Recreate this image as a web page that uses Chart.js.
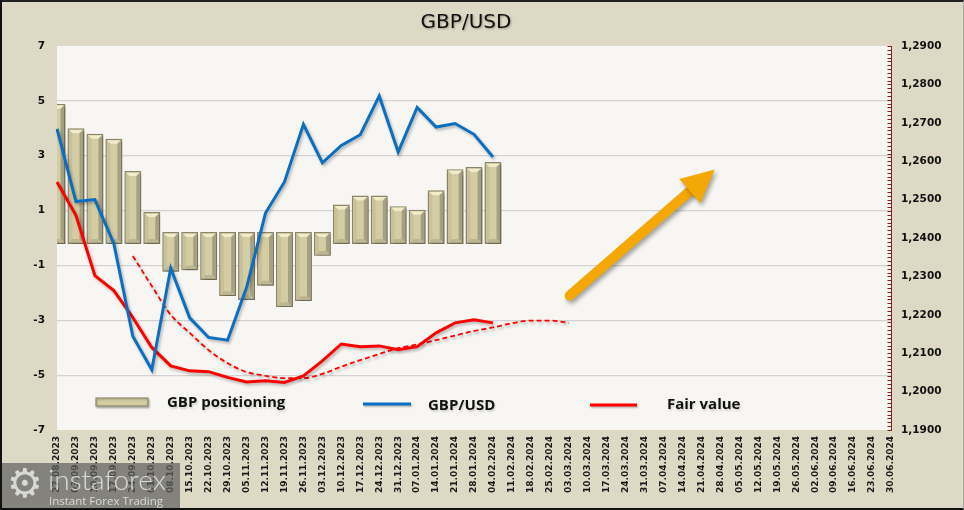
<!DOCTYPE html>
<html>
<head>
<meta charset="utf-8">
<script src="https://cdn.jsdelivr.net/npm/chart.js@4.4.1/dist/chart.umd.min.js"></script>
<style>
  html, body { margin: 0; padding: 0; background: #ddd9c4; }
  #wrap { position: relative; width: 964px; height: 510px; overflow: hidden; }
  #c { position: absolute; left: 0; top: 0; }
  #frame { position: absolute; left: 0; top: 0; width: 964px; height: 510px; box-sizing: border-box;
           border-left: 2px solid #111; border-top: 2px solid #222; border-bottom: 2px solid #111;
           border-right: 1px solid #a8a8a8; pointer-events: none; }
  #wm { position: absolute; left: 2px; top: 463px; width: 178px; height: 47px;
        background: rgba(96, 96, 96, 0.72); color: rgba(232, 232, 232, 0.85); }
  #wm .gear { position: absolute; left: 5px; top: -3px; font: 40px "DejaVu Sans"; }
  #wm .big { position: absolute; left: 46px; top: -1px; font: 300 28px "Lato"; }
  #wm .small { position: absolute; left: 47px; top: 30px; font: 11.5px "Open Sans"; }
</style>
</head>
<body>
<div id="wrap">
  <canvas id="c" width="964" height="510"></canvas>
  <div id="wm"><span class="gear">⚙</span><span class="big">instaforex</span><span class="small">Instant Forex Trading</span></div>
  <div id="frame"></div>
</div>
<script>
// weekly dates on the x axis
const weeks = [
  "27.08.2023","03.09.2023","10.09.2023","17.09.2023","24.09.2023","01.10.2023","08.10.2023",
  "15.10.2023","22.10.2023","29.10.2023","05.11.2023","12.11.2023","19.11.2023","26.11.2023",
  "03.12.2023","10.12.2023","17.12.2023","24.12.2023","31.12.2023","07.01.2024","14.01.2024",
  "21.01.2024","28.01.2024","04.02.2024","11.02.2024","18.02.2024","25.02.2024","03.03.2024",
  "10.03.2024","17.03.2024","24.03.2024","31.03.2024","07.04.2024","14.04.2024","21.04.2024",
  "28.04.2024","05.05.2024","12.05.2024","19.05.2024","26.05.2024","02.06.2024","09.06.2024",
  "16.06.2024","23.06.2024","30.06.2024"
];

// GBP positioning (left axis)
const positioning = [4.67, 3.78, 3.58, 3.40, 2.22, 0.73, -1.01, -0.96, -1.31, -1.90, -2.04, -1.52,
  -2.30, -2.08, -0.43, 1.00, 1.33, 1.33, 0.94, 0.81, 1.52, 2.29, 2.37, 2.55];

// GBP/USD rate (right axis)
const gbpusd = [1.2684, 1.2495, 1.2500, 1.2385, 1.2144, 1.2057, 1.2321, 1.2192, 1.2141, 1.2134,
  1.2271, 1.2465, 1.2546, 1.2696, 1.2596, 1.2641, 1.2669, 1.2770, 1.2624, 1.2740, 1.2689, 1.2698,
  1.2670, 1.2611];

// fair value (right axis)
const fairValue = [1.2546, 1.2459, 1.2302, 1.2263, 1.2193, 1.2115, 1.2067, 1.2054, 1.2052, 1.2037,
  1.2025, 1.2028, 1.2024, 1.2041, 1.2080, 1.2124, 1.2117, 1.2119, 1.2109, 1.2117, 1.2153, 1.2179,
  1.2187, 1.2179];

// fair value trend (dashed), starts at 24.09.2023
const fairTrend = [null, null, null, null, 1.2353, 1.2275, 1.2200, 1.2153, 1.2108, 1.2074, 1.2051,
  1.2041, 1.2035, 1.2035, 1.2046, 1.2065, 1.2082, 1.2098, 1.2113, 1.2123, 1.2134, 1.2146, 1.2158,
  1.2167, 1.2178, 1.2185, 1.2185, 1.2179];

// arrow annotation: [x index, left axis value]
const arrowFrom = [27.05, -2.1];
const arrowTo = [34.7, 2.5];

const BAR_FILL = "#d4cca3";
const BAR_EDGE = "#8d8769";
const BLUE = "#0b6fc1";
const RED = "#ff0000";
const INFLATE = 6;

const plotBg = {
  id: "plotBg",
  beforeDraw(chart) {
    const { ctx, chartArea: a } = chart;
    ctx.save();
    ctx.fillStyle = "#f7f6f2";
    ctx.fillRect(a.left, a.top, a.right - a.left, a.bottom - a.top);
    ctx.restore();
  }
};

const shadows = {
  id: "shadows",
  beforeDatasetDraw(chart) {
    const ctx = chart.ctx;
    ctx.save();
    ctx.shadowColor = "rgba(0,0,0,0.28)";
    ctx.shadowBlur = 3;
    ctx.shadowOffsetX = 1.5;
    ctx.shadowOffsetY = 2;
  },
  afterDatasetDraw(chart, args) {
    chart.ctx.restore();
    // bevel on the bars
    const meta = args.meta;
    if (meta.type !== "bar") return;
    const ctx = chart.ctx, a = chart.chartArea;
    ctx.save();
    ctx.beginPath();
    ctx.rect(a.left, a.top, a.right - a.left, a.bottom - a.top);
    ctx.clip();
    meta.data.forEach((b) => {
      const l = b.x - b.width / 2 - INFLATE + 1.4, r = b.x + b.width / 2 + INFLATE - 1.4;
      const t = Math.min(b.y, b.base) - INFLATE + 1.4, bt = Math.max(b.y, b.base) + INFLATE - 1.4;
      const d = 3.5;
      ctx.fillStyle = "#f2ecca";
      ctx.beginPath();
      ctx.moveTo(l, t); ctx.lineTo(r, t); ctx.lineTo(r - d, t + d); ctx.lineTo(l + d, t + d);
      ctx.closePath(); ctx.fill();
      ctx.fillStyle = "#a6a083";
      ctx.beginPath();
      ctx.moveTo(r, t); ctx.lineTo(r, bt); ctx.lineTo(r - d, bt - d); ctx.lineTo(r - d, t + d);
      ctx.closePath(); ctx.fill();
      ctx.fillStyle = "#bdb692";
      ctx.beginPath();
      ctx.moveTo(l, bt); ctx.lineTo(r, bt); ctx.lineTo(r - d, bt - d); ctx.lineTo(l + d, bt - d);
      ctx.closePath(); ctx.fill();
      ctx.fillStyle = "#c9c199";
      ctx.beginPath();
      ctx.moveTo(l, t); ctx.lineTo(l + d, t + d); ctx.lineTo(l + d, bt - d); ctx.lineTo(l, bt);
      ctx.closePath(); ctx.fill();
    });
    ctx.restore();
  }
};

// small inward ticks on the right axis
const rightTicks = {
  id: "rightTicks",
  afterDraw(chart) {
    const s = chart.scales.y1, ctx = chart.ctx;
    const x = chart.chartArea.right;
    ctx.save();
    ctx.strokeStyle = "#8b1c1c";
    ctx.lineWidth = 1;
    s.ticks.forEach((t) => {
      const y = Math.round(s.getPixelForValue(t.value)) + 0.5;
      ctx.beginPath();
      ctx.moveTo(x - 3.5, y);
      ctx.lineTo(x, y);
      ctx.stroke();
    });
    ctx.restore();
  }
};

const decorations = {
  id: "decorations",
  afterDraw(chart) {
    const ctx = chart.ctx;
    const sx = chart.scales.x, sy = chart.scales.y;

    // title
    ctx.save();
    ctx.font = '20px "DejaVu Sans"';
    ctx.fillStyle = "#111";
    ctx.textAlign = "center";
    ctx.textBaseline = "middle";
    ctx.shadowColor = "rgba(0,0,0,0.3)";
    ctx.shadowBlur = 2;
    ctx.shadowOffsetX = 1;
    ctx.shadowOffsetY = 1;
    ctx.fillText("GBP/USD", 466, 23);
    ctx.restore();

    // arrow
    const x0 = sx.getPixelForValue(arrowFrom[0]), y0 = sy.getPixelForValue(arrowFrom[1]);
    const x1 = sx.getPixelForValue(arrowTo[0]), y1 = sy.getPixelForValue(arrowTo[1]);
    const ang = Math.atan2(y1 - y0, x1 - x0);
    const headLen = 33, headW = 16;
    const bx = x1 - headLen * Math.cos(ang), by = y1 - headLen * Math.sin(ang);
    ctx.save();
    ctx.shadowColor = "rgba(0,0,0,0.35)";
    ctx.shadowBlur = 4;
    ctx.shadowOffsetX = 2;
    ctx.shadowOffsetY = 3;
    ctx.strokeStyle = "#f4a806";
    ctx.fillStyle = "#f4a806";
    ctx.lineWidth = 10;
    ctx.lineCap = "round";
    ctx.beginPath();
    ctx.moveTo(x0, y0);
    ctx.lineTo(bx + 4 * Math.cos(ang), by + 4 * Math.sin(ang));
    ctx.stroke();
    ctx.beginPath();
    ctx.moveTo(x1, y1);
    ctx.lineTo(bx + headW * Math.sin(ang), by - headW * Math.cos(ang));
    ctx.lineTo(bx - headW * Math.sin(ang), by + headW * Math.cos(ang));
    ctx.closePath();
    ctx.fill();
    ctx.restore();

    // legend
    ctx.save();
    ctx.font = 'bold 15px "Open Sans"';
    ctx.textBaseline = "middle";
    ctx.shadowColor = "rgba(0,0,0,0.25)";
    ctx.shadowBlur = 2;
    ctx.shadowOffsetX = 1;
    ctx.shadowOffsetY = 1.5;
    ctx.fillStyle = BAR_FILL;
    ctx.fillRect(96, 398, 52, 8);
    ctx.strokeStyle = BAR_EDGE;
    ctx.lineWidth = 1.2;
    ctx.strokeRect(96, 398, 52, 8);
    ctx.lineWidth = 3;
    ctx.strokeStyle = BLUE;
    ctx.beginPath(); ctx.moveTo(363, 404); ctx.lineTo(411, 404); ctx.stroke();
    ctx.strokeStyle = RED;
    ctx.beginPath(); ctx.moveTo(590, 405); ctx.lineTo(637, 405); ctx.stroke();
    ctx.shadowColor = "rgba(0,0,0,0.15)";
    ctx.fillStyle = "#111";
    ctx.fillText("GBP positioning", 167, 403);
    ctx.fillText("GBP/USD", 428, 406);
    ctx.fillText("Fair value", 667, 405);
    ctx.restore();
  }
};

new Chart(document.getElementById("c"), {
  data: {
    labels: weeks,
    datasets: [
      {
        type: "line", label: "GBP/USD", data: gbpusd, yAxisID: "y1", order: 1,
        borderColor: BLUE, borderWidth: 3, pointRadius: 0, tension: 0
      },
      {
        type: "line", label: "Fair value", data: fairValue, yAxisID: "y1", order: 2,
        borderColor: RED, borderWidth: 3, pointRadius: 0, tension: 0
      },
      {
        type: "line", label: "Fair value trend", data: fairTrend, yAxisID: "y1", order: 3,
        borderColor: RED, borderWidth: 1.8, borderDash: [5, 3], pointRadius: 0,
        cubicInterpolationMode: "monotone"
      },
      {
        type: "bar", label: "GBP positioning", data: positioning, yAxisID: "y", order: 4,
        backgroundColor: BAR_FILL, borderColor: BAR_EDGE, borderWidth: 1.4, borderSkipped: false,
        inflateAmount: INFLATE, barPercentage: 0.26, categoryPercentage: 1, clip: 0
      }
    ]
  },
  options: {
    responsive: false,
    animation: false,
    layout: { padding: { top: 46, left: 0, right: 0, bottom: 0 } },
    plugins: { legend: { display: false }, tooltip: { enabled: false } },
    scales: {
      x: {
        offset: false,
        grid: { display: false, drawTicks: false },
        border: { display: false },
        ticks: {
          autoSkip: false, minRotation: 90, maxRotation: 90, padding: 6,
          color: "#1a1a1a", font: { family: "DejaVu Sans", size: 9, weight: "bold" }
        },
        afterFit(s) { s.height = 80; }
      },
      y: {
        position: "left", min: -7, max: 7,
        ticks: {
          stepSize: 2, padding: 12, color: "#111",
          font: { family: "DejaVu Sans", size: 10.5, weight: "bold" }
        },
        grid: {
          drawTicks: false, lineWidth: 1.2,
          color: (c) => (Math.abs(c.tick.value) === 7 ? "rgba(0,0,0,0)" : "#d3d3d3")
        },
        border: { display: false },
        afterFit(s) { s.width = 57; }
      },
      y1: {
        position: "right", min: 1.19, max: 1.29,
        ticks: {
          stepSize: 0.001, autoSkip: false, padding: 10, color: "#111",
          font: { family: "DejaVu Sans", size: 10.5, weight: "bold" },
          callback: (v) => (Math.round(v * 1000) % 10 === 0 ? v.toFixed(4).replace(".", ",") : "")
        },
        grid: { drawOnChartArea: false, drawTicks: false },
        border: { color: "#8b1c1c", width: 1 },
        afterFit(s) { s.width = 73; }
      }
    }
  },
  plugins: [plotBg, shadows, rightTicks, decorations]
});
</script>
</body>
</html>
